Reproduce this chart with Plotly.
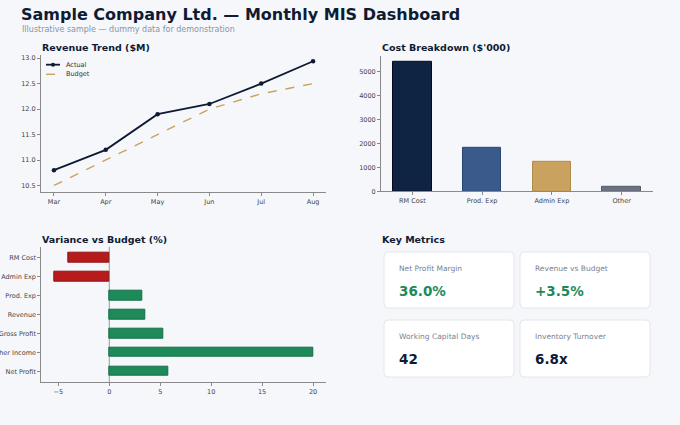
import plotly.graph_objects as go

# ---------------- data ----------------
months = ["Mar", "Apr", "May", "Jun", "Jul", "Aug"]
revenue_actual = [10.8, 11.2, 11.9, 12.1, 12.5, 12.94]
revenue_budget = [10.5, 11.0, 11.5, 12.0, 12.3, 12.5]

cost_categories = ["RM Cost", "Prod. Exp", "Admin Exp", "Other"]
cost_values = [5400, 1800, 1250, 180]

variance_categories = ["RM Cost", "Admin Exp", "Prod. Exp", "Revenue",
                       "Gross Profit", "Other Income", "Net Profit"]
variance_values = [-4.0, -5.4, 3.2, 3.5, 5.3, 20.0, 5.8]

metric_labels = ["Net Profit Margin", "Revenue vs Budget",
                 "Working Capital Days", "Inventory Turnover"]
metric_values = ["36.0%", "+3.5%", "42", "6.8x"]
metric_good = [True, True, False, False]

# ---------------- style ----------------
W, H = 680, 425
FONT = "DejaVu Sans"
BG = "#f5f7fb"
DARK = "#0f1b33"
GREEN = "#1e8a5a"
RED = "#b71c1c"
GOLD = "#c9a35e"
TICK = dict(family=FONT, size=6.5, color="#444444")


def px(x):
    return x / W


def py(y):
    return 1 - y / H


fig = go.Figure()

# Revenue trend
fig.add_trace(go.Scatter(
    x=months, y=revenue_actual, name="Actual", mode="lines+markers",
    line=dict(color=DARK, width=1.8), marker=dict(size=4.5, color=DARK),
    xaxis="x", yaxis="y"))
fig.add_trace(go.Scatter(
    x=months, y=revenue_budget, name="Budget", mode="lines",
    line=dict(color=GOLD, width=1.4, dash="dash"),
    xaxis="x", yaxis="y"))

# Cost breakdown
fig.add_trace(go.Bar(
    x=cost_categories, y=cost_values, width=0.55,
    marker=dict(color=["#0f2342", "#3a5a8c", "#c8a25e", "#6b7280"],
                line=dict(color=["#050d1c", "#2a4672", "#b08a48", "#555c68"], width=1)),
    xaxis="x2", yaxis="y2"))

# Variance vs budget
fig.add_trace(go.Bar(
    y=variance_categories, x=variance_values, orientation="h", width=0.5,
    marker=dict(color=[RED if v < 0 else GREEN for v in variance_values],
                line=dict(color=["#8e1414" if v < 0 else "#166e47" for v in variance_values],
                          width=1)),
    xaxis="x3", yaxis="y3"))

axis_common = dict(showgrid=False, zeroline=False, showline=True, automargin=False,
                   linecolor="#8a8a8a", linewidth=1, ticks="outside",
                   ticklen=3, tickcolor="#8a8a8a", tickfont=TICK)

layout = dict(
    width=W, height=H, margin=dict(l=0, r=0, t=0, b=0, autoexpand=False),
    paper_bgcolor=BG, plot_bgcolor=BG,
    font=dict(family=FONT, color=DARK),
    showlegend=False,
    xaxis=dict(domain=[px(41), px(326)], anchor="y", range=[-0.25, 5.25],
               **axis_common),
    yaxis=dict(domain=[py(191.7), py(55)], anchor="x", range=[10.378, 13.062],
               tickvals=[10.5, 11.0, 11.5, 12.0, 12.5, 13.0], tickformat=".1f",
               **axis_common),
    xaxis2=dict(domain=[px(381), px(653)], anchor="y2", range=[-0.45, 3.45],
                **axis_common),
    yaxis2=dict(domain=[py(191.3), py(55.8)], anchor="x2", range=[0, 5670],
                tickvals=[0, 1000, 2000, 3000, 4000, 5000], **axis_common),
    xaxis3=dict(domain=[px(41.3), px(326)], anchor="y3", range=[-6.67, 21.27],
                tickvals=[-5, 0, 5, 10, 15, 20],
                **axis_common),
    yaxis3=dict(domain=[py(382.3), py(246.7)], anchor="x3", range=[6.575, -0.575],
                type="category", categoryorder="array",
                categoryarray=variance_categories, **axis_common),
    bargap=0,
)
fig.update_layout(**layout)

# zero line on variance chart
fig.add_shape(type="line", xref="x3", yref="y3 domain", x0=0, x1=0, y0=0, y1=1,
              line=dict(color="#9a9a9a", width=1), layer="below")

# compact legend for the revenue chart (decoration only)
leg_x0, leg_x1 = 46, 60
leg_rows = [(64.7, "Actual", DARK, "solid", 1.8), (74.3, "Budget", GOLD, "dash", 1.4)]
for ly, _, col, dash, w in leg_rows:
    fig.add_shape(type="line", xref="paper", yref="paper",
                  x0=px(leg_x0), x1=px(leg_x1), y0=py(ly), y1=py(ly),
                  line=dict(color=col, width=w, dash=dash))
fig.add_shape(type="circle", xref="paper", yref="paper",
              x0=px(51), x1=px(55), y0=py(66.7), y1=py(62.7),
              fillcolor=DARK, line=dict(color=DARK, width=0))

annotations = [
    dict(text="<b>Sample Company Ltd. — Monthly MIS Dashboard</b>", x=px(19), y=py(14),
         font=dict(size=16, color=DARK)),
    dict(text="Illustrative sample — dummy data for demonstration", x=px(20), y=py(29),
         font=dict(size=8, color="#8a94a6")),
    dict(text="<b>Revenue Trend ($M)</b>", x=px(40), y=py(47), font=dict(size=9.5, color=DARK)),
    dict(text="<b>Cost Breakdown ($'000)</b>", x=px(380), y=py(47), font=dict(size=9.5, color=DARK)),
    dict(text="<b>Variance vs Budget (%)</b>", x=px(40), y=py(239), font=dict(size=9.5, color=DARK)),
    dict(text="<b>Key Metrics</b>", x=px(380), y=py(239), font=dict(size=9.5, color=DARK)),
]
for ly, name, _, _, _ in leg_rows:
    annotations.append(dict(text=name, x=px(64), y=py(ly),
                            font=dict(size=6.5, color="#333333")))

# metric cards
card_x = [(384, 514), (520, 650)]
card_y = [(252, 308), (320, 377)]
r = 4
for i, (lab, val, good) in enumerate(zip(metric_labels, metric_values, metric_good)):
    x0, x1 = card_x[i % 2]
    y0, y1 = card_y[i // 2]
    X0, X1 = px(x0), px(x1)
    Y0, Y1 = py(y1), py(y0)
    rx, ry = r / W, r / H
    path = (f"M {X0+rx} {Y0} L {X1-rx} {Y0} Q {X1} {Y0} {X1} {Y0+ry} "
            f"L {X1} {Y1-ry} Q {X1} {Y1} {X1-rx} {Y1} L {X0+rx} {Y1} "
            f"Q {X0} {Y1} {X0} {Y1-ry} L {X0} {Y0+ry} Q {X0} {Y0} {X0+rx} {Y0} Z")
    fig.add_shape(type="path", path=path, xref="paper", yref="paper",
                  fillcolor="#ffffff", line=dict(color="#e3e6ec", width=1), layer="below")
    annotations.append(dict(text=lab, x=px(x0 + 13), y=py(y0 + 16.5),
                            font=dict(size=7.5, color="#7b8290")))
    annotations.append(dict(text=f"<b>{val}</b>", x=px(x0 + 12.5), y=py(y0 + 39),
                            font=dict(size=13.5, color=GREEN if good else DARK)))

for a in annotations:
    a.update(xref="paper", yref="paper", xanchor="left", yanchor="middle",
             showarrow=False)
    a["font"]["family"] = FONT
fig.update_layout(annotations=annotations)

fig.write_html("out.html", config={"displayModeBar": False},
               post_script="document.body.style.margin='0';document.body.style.overflow='hidden';")
